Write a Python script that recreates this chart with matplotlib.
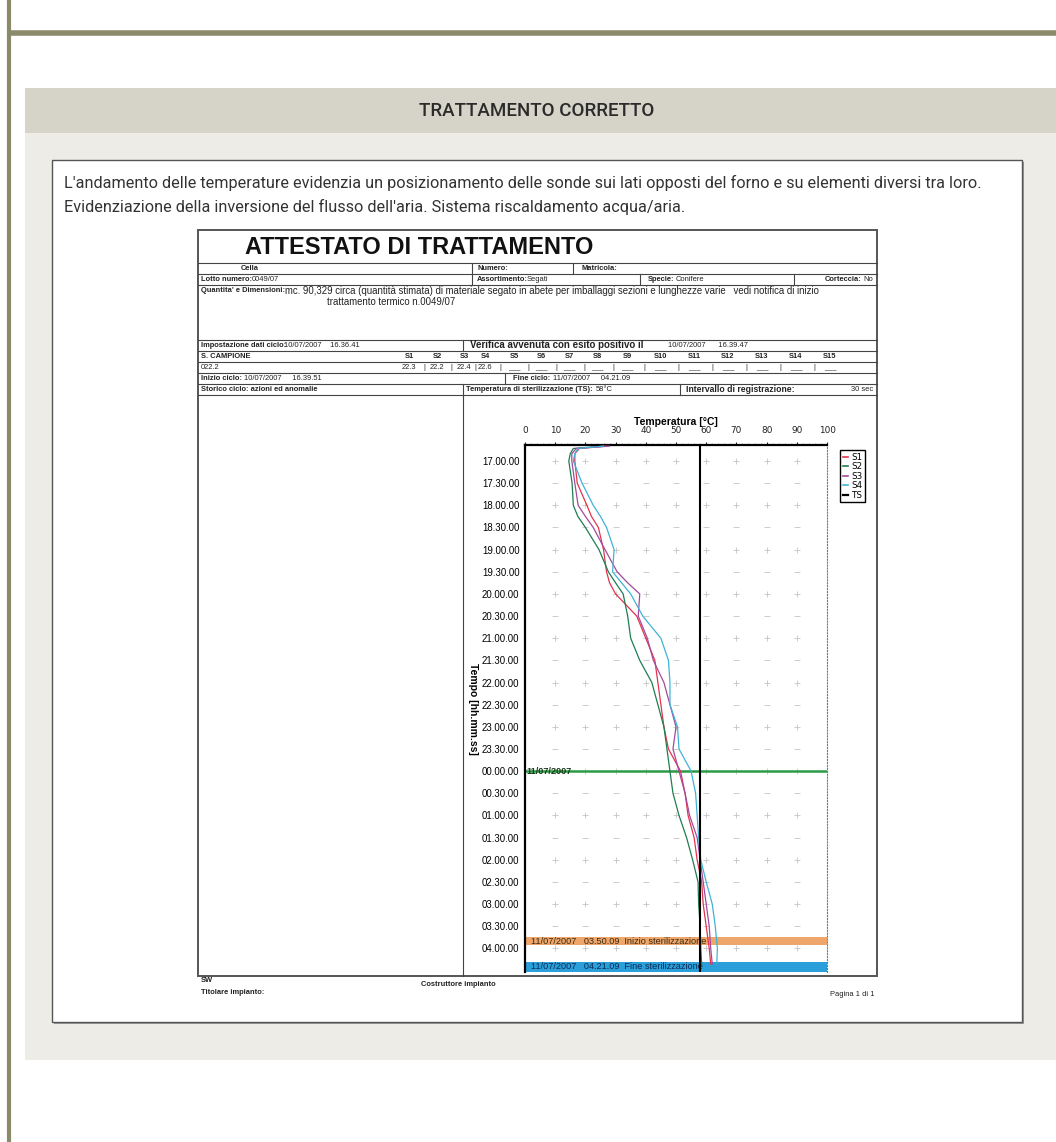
import matplotlib.pyplot as plt
from matplotlib.patches import Rectangle
from matplotlib.lines import Line2D

times = ['16.39.51', '16.43.00', '16.50.00', '17.00.00', '17.30.00', '18.00.00',
         '18.15.00', '18.30.00', '19.00.00', '19.30.00', '19.45.00', '20.00.00',
         '20.30.00', '21.00.00', '21.30.00', '22.00.00', '22.30.00', '23.00.00',
         '23.30.00', '00.00.00', '00.30.00', '01.00.00', '01.30.00', '02.00.00',
         '02.30.00', '03.00.00', '03.30.00', '04.00.00', '04.21.09']
s1 = [27.0, 18.0, 16.5, 16.5, 17.3, 20.5, 22.0, 24.3, 26.0, 27.0, 28.0, 30.0,
      37.0, 40.0, 43.0, 44.0, 45.0, 46.0, 47.5, 51.5, 53.0, 54.0, 56.0, 57.0,
      58.5, 59.0, 60.0, 61.0, 61.5]
s2 = [26.0, 16.0, 15.0, 14.5, 15.6, 16.0, 17.5, 20.0, 24.5, 27.6, 30.0, 32.5,
      34.0, 35.0, 38.0, 42.0, 44.0, 46.0, 47.0, 48.0, 49.0, 51.0, 53.5, 55.5,
      57.3, 57.5, 58.0, 58.2, 58.5]
s3 = [28.0, 17.0, 15.5, 15.5, 16.5, 17.6, 20.0, 22.6, 26.5, 30.5, 34.0, 38.0,
      37.5, 40.5, 42.5, 46.0, 48.0, 50.0, 49.0, 51.0, 53.0, 54.5, 57.0, 58.0,
      59.0, 60.0, 61.0, 61.5, 62.0]
s4 = [26.0, 17.5, 16.5, 16.0, 18.9, 22.6, 25.0, 27.0, 29.5, 29.0, 32.0, 35.0,
      39.0, 45.0, 47.5, 48.0, 48.0, 50.5, 51.0, 55.0, 56.5, 57.0, 57.5, 58.2,
      60.0, 62.0, 63.0, 63.7, 63.5]
series = {'S1': s1, 'S2': s2, 'S3': s3, 'S4': s4}
colors = {'S1': '#e0354f', 'S2': '#1f7d52', 'S3': '#a24a9e', 'S4': '#3fb3d6'}

hour_ticks = ['17.00.00', '17.30.00', '18.00.00', '18.30.00', '19.00.00', '19.30.00',
              '20.00.00', '20.30.00', '21.00.00', '21.30.00', '22.00.00', '22.30.00',
              '23.00.00', '23.30.00', '00.00.00', '00.30.00', '01.00.00', '01.30.00',
              '02.00.00', '02.30.00', '03.00.00', '03.30.00', '04.00.00']
temp_ticks = [0, 10, 20, 30, 40, 50, 60, 70, 80, 90, 100]
ts_temp = 58
start_steril = '03.50.09'
end_steril = '04.21.09'
midnight = '00.00.00'
probe_labels = ['S1', 'S2', 'S3', 'S4', 'S5', 'S6', 'S7', 'S8', 'S9', 'S10',
                'S11', 'S12', 'S13', 'S14', 'S15']
probe_start = ['22.3', '22.2', '22.4', '22.6']


def to_min(t):
    h, m, s = [int(v) for v in t.split('.')]
    if h < 12:
        h += 24
    return (h - 17) * 60 + m + s / 60


W, H = 1056, 1142
fig = plt.figure(figsize=(W / 100, H / 100), dpi=100)
bg = fig.add_axes([0, 0, 1, 1])
bg.set_xlim(0, W)
bg.set_ylim(H, 0)
bg.axis('off')

olive = '#8b8a6a'
bg.plot([9, 9], [0, H], color=olive, lw=3, solid_capstyle='butt')
bg.plot([9, W], [33, 33], color=olive, lw=4, solid_capstyle='butt')

# grey panel with header band
bg.add_patch(Rectangle((25, 88), W - 25, 972, color='#edece7', lw=0))
bg.add_patch(Rectangle((25, 88), W - 25, 45, color='#d6d3c8', lw=0))
bg.text(537, 111, 'TRATTAMENTO CORRETTO', ha='center', va='center',
        fontsize=13.5, family='Roboto', weight='medium', color='#2b2b2b')

bg.add_patch(Rectangle((54, 162), 970, 862, color='#9a9a9a', lw=0))
bg.add_patch(Rectangle((52, 160), 970, 862, facecolor='white', edgecolor='#555555', lw=1))
desc_font = dict(fontsize=11.7, family='Roboto', color='#333333', va='center')
bg.text(64, 183, "L'andamento delle temperature evidenzia un posizionamento delle sonde "
        "sui lati opposti del forno e su elementi diversi tra loro.", **desc_font)
bg.text(64, 207, "Evidenziazione della inversione del flusso dell'aria. "
        "Sistema riscaldamento acqua/aria.", **desc_font)

# scanned certificate
bg.add_patch(Rectangle((198, 230), 679, 746, facecolor='white', edgecolor='#555555', lw=1.4))
bg.text(245, 248, 'ATTESTATO DI TRATTAMENTO', fontsize=17, family='Liberation Sans',
        weight='bold', va='center', color='#111111')

nar = 'Liberation Sans'
small = dict(fontsize=5.4, family=nar, va='center', color='#222222')
bold = dict(small, weight='bold')
line_kw = dict(color='#444444', lw=0.8)

for y in [263, 274, 285, 340, 351, 362, 373, 384, 395]:
    bg.plot([198, 877], [y, y], **line_kw)
for x, y0, y1 in [(472, 263, 285), (573, 263, 274), (640, 274, 285), (794, 274, 285),
                  (463, 340, 351), (505, 373, 384), (463, 384, 976), (680, 384, 395)]:
    bg.plot([x, x], [y0, y1], **line_kw)

bg.text(250, 268.5, 'Cella', ha='center', **bold)
bg.text(477, 268.5, 'Numero:', **bold)
bg.text(582, 268.5, 'Matricola:', **bold)
bg.text(201, 279.5, 'Lotto numero:', **bold)
bg.text(252, 279.5, '0049/07', **small)
bg.text(477, 279.5, 'Assortimento:', **bold)
bg.text(527, 279.5, 'Segati', **small)
bg.text(648, 279.5, 'Specie:', **bold)
bg.text(676, 279.5, 'Conifere', **small)
bg.text(825, 279.5, 'Corteccia:', **bold)
bg.text(863, 279.5, 'No', **small)
bg.text(201, 291, "Quantita' e Dimensioni:", **bold)
bg.text(285, 291, 'mc. 90,329 circa (quantità stimata) di materiale segato in abete per '
        'imballaggi sezioni e lunghezze varie   vedi notifica di inizio',
        **dict(small, fontsize=6.9))
bg.text(327, 302, 'trattamento termico n.0049/07', **dict(small, fontsize=6.9))

bg.text(201, 345.5, 'Impostazione dati ciclo:', **bold)
bg.text(284, 345.5, '10/07/2007    16.36.41', **small)
bg.text(470, 345.5, 'Verifica avvenuta con esito positivo il', **dict(bold, fontsize=7))
bg.text(668, 345.5, '10/07/2007      16.39.47', **small)
bg.text(201, 356.5, 'S. CAMPIONE', **bold)
probe_x = [409, 437, 464, 485, 514, 541, 569, 597, 627, 660, 694, 728, 762, 796, 830]
for x, lab in zip(probe_x, probe_labels):
    bg.text(x, 356.5, lab, ha='center', **bold)
bg.text(201, 367.5, '022.2', **small)
for i, x in enumerate(probe_x):
    cell = probe_start[i] if i < len(probe_start) else '___'
    bg.text(x, 367.5, cell, ha='center', **small)
    if i < len(probe_x) - 1:
        bg.text((x + probe_x[i + 1]) / 2 + 1, 367.5, '|', ha='center', **small)
bg.text(201, 378.5, 'Inizio ciclo:', **bold)
bg.text(244, 378.5, '10/07/2007     16.39.51', **small)
bg.text(513, 378.5, 'Fine ciclo:', **bold)
bg.text(553, 378.5, '11/07/2007     04.21.09', **small)
bg.text(201, 389.5, 'Storico ciclo: azioni ed anomalie', **bold)
bg.text(466, 389.5, 'Temperatura di sterilizzazione (TS):', **bold)
bg.text(596, 389.5, '%d°C' % ts_temp, **small)
bg.text(686, 389.5, 'Intervallo di registrazione:', **dict(bold, fontsize=6.2))
bg.text(873, 389.5, '30 sec', ha='right', **small)

bg.text(201, 981, 'SW', **bold)
bg.text(201, 992, 'Titolare impianto:', **bold)
bg.text(421, 985, 'Costruttore impianto', **bold)
bg.text(875, 994, 'Pagina 1 di 1', ha='right', **small)

# temperature chart
left, right, top, bottom = 525, 827, 445, 972
ax = fig.add_axes([left / W, 1 - bottom / H, (right - left) / W, (bottom - top) / H])
ax.set_xlim(0, 100)
ax.set_ylim(692, -21.7)

ax.axhspan(to_min(start_steril) - 5.5, to_min(start_steril) + 5.5, color='#eea66a',
           lw=0, zorder=1)
ax.axhspan(to_min(end_steril) - 3, 692, color='#2a9fd9', lw=0, zorder=1)
band_txt = dict(fontsize=6.6, family=nar, va='center', zorder=2)
ax.text(2, to_min(start_steril), '11/07/2007   03.50.09  Inizio sterilizzazione',
        color='#3a2a10', **band_txt)
ax.text(2, to_min(end_steril) + 3, '11/07/2007   04.21.09  Fine sterilizzazione',
        color='#0d2a55', **band_txt)
ax.axhline(to_min(midnight), color='#2a9a45', lw=1.8, zorder=2)
ax.text(0.5, to_min(midnight), '11/07/2007', fontsize=6.6, family=nar, weight='bold',
        va='center', color='#1a3a1a', zorder=3)

hours = [to_min(t) for t in hour_ticks]
for i, h in enumerate(hours):
    mk = '+' if i % 2 == 0 else '_'
    ax.plot(temp_ticks[1:-1], [h] * 9, ls='none', marker=mk, ms=5, mew=0.6,
            color='#c4c4c4', zorder=1)

tm = [to_min(t) for t in times]
for name, vals in series.items():
    ax.plot(vals, tm, color=colors[name], lw=0.9, zorder=4)
ax.axvline(ts_temp, color='black', lw=1.5, zorder=5)

ax.xaxis.tick_top()
ax.xaxis.set_label_position('top')
ax.set_xticks(temp_ticks)
ax.set_xticks(range(0, 101, 2), minor=True)
ax.tick_params(axis='x', which='major', labelsize=6.4, length=2, pad=5, colors='#222222')
ax.tick_params(axis='x', which='minor', length=1.5, color='#999999')
ax.set_xlabel('Temperatura [°C]', fontsize=7.5, family=nar, weight='bold', labelpad=1)
ax.set_yticks(hours)
ax.set_yticklabels(hour_ticks, family=nar)
ax.tick_params(axis='y', labelsize=6.9, length=0, pad=4)
ax.set_ylabel('Tempo [hh.mm.ss]', fontsize=7.5, family=nar, weight='bold',
              rotation=-90, labelpad=2)
ax.yaxis.set_label_coords(-0.19, 0.5)
ax.spines['left'].set_linewidth(1.6)
ax.spines['top'].set_linewidth(1.6)
ax.spines['right'].set_linestyle(':')
ax.spines['right'].set_color('#777777')
ax.spines['bottom'].set_visible(False)

handles = [Line2D([], [], color=colors[n], lw=1.2) for n in series]
handles.append(Line2D([], [], color='black', lw=1.6))
leg = fig.legend(handles, ['S1', 'S2', 'S3', 'S4', 'TS'], loc='upper left',
                 bbox_to_anchor=(836 / W, 1 - 446 / H), fontsize=6.3,
                 handlelength=0.6, handletextpad=0.3, borderpad=0.3,
                 labelspacing=0.05, fancybox=False, edgecolor='black', framealpha=1)
leg.get_frame().set_linewidth(1.0)

fig.savefig('out.png', dpi=100)
